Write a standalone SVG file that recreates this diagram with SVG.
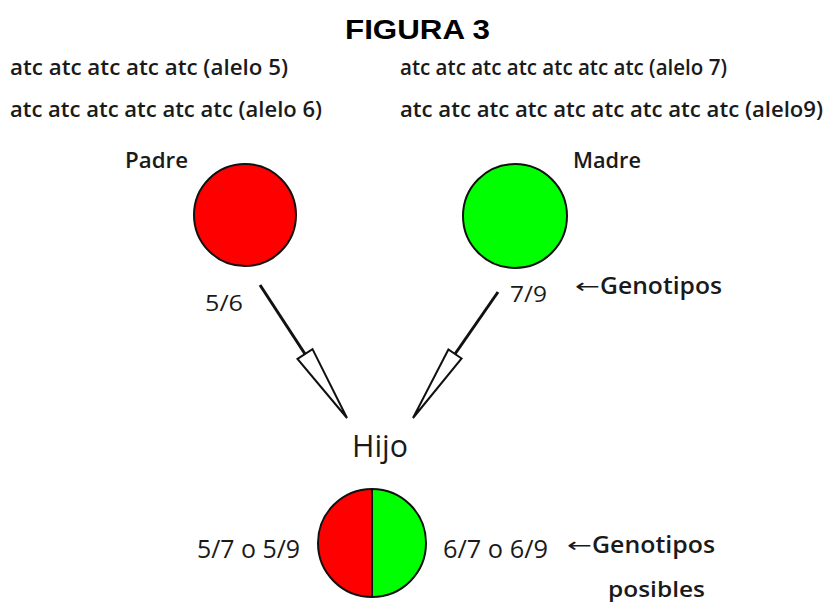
<svg xmlns="http://www.w3.org/2000/svg" width="825" height="608" viewBox="0 0 825 608">
<style>
.t{font-family:"Open Sans","Noto Sans",sans-serif;fill:#1a1a1a}
.b{font-weight:600}
.ar{font-family:"DejaVu Sans",sans-serif;font-weight:normal;fill:#1a1a1a}
.c{stroke:#111;stroke-width:2}
.ln{stroke:#111;stroke-width:3;fill:none}
.hd{stroke:#111;stroke-width:2;fill:#fff;stroke-linejoin:miter}
</style>
<rect width="825" height="608" fill="#fff"/>
<text x="345" y="39" font-family="'Liberation Sans',Arial,sans-serif" font-weight="bold" font-size="27" fill="#000" textLength="145" lengthAdjust="spacingAndGlyphs">FIGURA 3</text>
<g id="alelos">
<text class="t b" x="10" y="75" font-size="22" textLength="278" lengthAdjust="spacingAndGlyphs">atc atc atc atc atc  (alelo 5)</text>
<text class="t b" x="10" y="117" font-size="22" textLength="312" lengthAdjust="spacingAndGlyphs">atc atc atc atc atc atc (alelo 6)</text>
<text class="t b" x="400" y="75" font-size="22" textLength="327" lengthAdjust="spacingAndGlyphs">atc atc atc atc atc atc atc (alelo 7)</text>
<text class="t b" x="400" y="117" font-size="22" textLength="423" lengthAdjust="spacingAndGlyphs">atc atc atc atc atc atc atc atc atc (alelo9)</text>
</g>
<g id="padre">
<text class="t b" x="125" y="168" font-size="22" textLength="63" lengthAdjust="spacingAndGlyphs">Padre</text>
<circle class="c" cx="245" cy="215" r="51" fill="#ff0000"/>
<text class="t" x="205" y="311" font-size="22" textLength="38" lengthAdjust="spacingAndGlyphs">5/6</text>
</g>
<g id="madre">
<text class="t b" x="573" y="168" font-size="22" textLength="68" lengthAdjust="spacingAndGlyphs">Madre</text>
<circle class="c" cx="515" cy="216" r="52" fill="#00ff00"/>
<text class="t" x="510" y="302" font-size="22" textLength="37" lengthAdjust="spacingAndGlyphs">7/9</text>
<text class="ar" x="575" y="293" font-size="20" textLength="25" lengthAdjust="spacingAndGlyphs">←</text>
<text class="t b" x="600" y="294" font-size="23" textLength="122" lengthAdjust="spacingAndGlyphs">Genotipos</text>
</g>
<g id="connectors">
<line class="ln" x1="260" y1="285" x2="305" y2="354"/>
<polygon class="hd" points="297.5,358.9 312.5,349.1 347,418"/>
<line class="ln" x1="498" y1="292" x2="455" y2="354"/>
<polygon class="hd" points="461.6,358.5 448.4,349.5 413,418"/>
</g>
<g id="hijo">
<text class="t" x="352" y="457" font-size="31" textLength="56" lengthAdjust="spacingAndGlyphs">Hijo</text>
<path d="M372,489 A54,54 0 0 0 372,597 Z" fill="#ff0000"/>
<path d="M372,489 A54,54 0 0 1 372,597 Z" fill="#00ff00"/>
<circle class="c" cx="372" cy="543" r="54" fill="none"/>
<line class="c" x1="372" y1="489" x2="372" y2="597"/>
<text class="t" x="197" y="558" font-size="25" textLength="103" lengthAdjust="spacingAndGlyphs">5/7 o 5/9</text>
<text class="t" x="443" y="558" font-size="25" textLength="105" lengthAdjust="spacingAndGlyphs">6/7 o 6/9</text>
<text class="ar" x="567" y="552" font-size="20" textLength="25" lengthAdjust="spacingAndGlyphs">←</text>
<text class="t b" x="592" y="553" font-size="23" textLength="123" lengthAdjust="spacingAndGlyphs">Genotipos</text>
<text class="t b" x="608" y="597" font-size="22" textLength="97" lengthAdjust="spacingAndGlyphs">posibles</text>
</g>
</svg>
